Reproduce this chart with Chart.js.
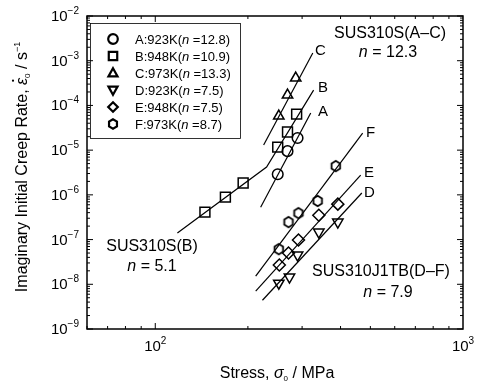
<!DOCTYPE html>
<html>
<head>
<meta charset="utf-8">
<script src="https://cdn.jsdelivr.net/npm/chart.js@4.4.0/dist/chart.umd.min.js"></script>
<style>
  html, body { margin: 0; padding: 0; background: #fff; }
</style>
</head>
<body>
<canvas id="creepChart" width="484" height="386"></canvas>
<script>
// --- data (stress in MPa, rate in 1/s) ---
const seriesLabels = ['A:923K(', 'B:948K(', 'C:973K(', 'D:923K(', 'E:948K(', 'F:973K('];
const seriesN = ['12.8', '10.9', '13.3', '7.5', '7.5', '8.7'];

const stressA = [250, 269, 290];
const rateA = [2.9e-6, 9.5e-6, 1.87e-5];
const stressB = [145, 169, 193, 250, 269, 288];
const rateB = [4.1e-7, 8.9e-7, 1.84e-6, 1.17e-5, 2.54e-5, 6.4e-5];
const stressC = [252, 269, 286];
const rateC = [5.8e-5, 1.71e-4, 4.1e-4];
const stressD = [252, 273, 290, 340, 392];
const rateD = [1.06e-8, 1.45e-8, 4.5e-8, 1.47e-7, 2.46e-7];
const stressE = [253, 271, 292, 340, 392];
const rateE = [2.7e-8, 5.0e-8, 9.8e-8, 3.5e-7, 6.2e-7];
const stressF = [252, 271, 292, 337, 386];
const rateF = [6.1e-8, 2.46e-7, 3.9e-7, 7.3e-7, 4.4e-6];

// fitted lines
const fitStressA = [220, 320];
const fitRateA = [5.3e-7, 6.8e-5];
const fitStressB = [118, 230, 327];
const fitRateB = [1.4e-7, 4.2e-6, 2.2e-4];
const fitStressC = [225, 325];
const fitRateC = [1.3e-5, 1.49e-3];
const fitStressD = [223, 469];
const fitRateD = [4.4e-9, 1.1e-6];
const fitStressE = [212, 465];
const fitRateE = [7.0e-9, 2.77e-6];
const fitStressF = [212, 472];
const fitRateF = [1.52e-8, 2.4e-5];

const xMajorTicks = [100, 1000];
const xTickExp = ['2', '3'];
const yTickExp = [-9, -8, -7, -6, -5, -4, -3, -2];

const FONT = '"Liberation Sans", Arial, Helvetica, sans-serif';

function toPoints(xs, ys) {
    return xs.map((v, i) => ({ x: v, y: ys[i] }));
}

// marker images for the legend (and the hexagon, which Chart.js has no style for)
function makeMarker(shape, size, lw) {
    const c = document.createElement('canvas');
    c.width = size; c.height = size;
    const g = c.getContext('2d');
    const m = size / 2;
    const r = size / 2 - lw;
    g.strokeStyle = '#000';
    g.lineWidth = lw;
    g.beginPath();
    if (shape === 'circle') {
        g.arc(m, m, r, 0, Math.PI * 2);
    } else if (shape === 'square') {
        const s = r * 0.88;
        g.rect(m - s, m - s, s * 2, s * 2);
    } else if (shape === 'up' || shape === 'down') {
        const d = shape === 'up' ? 1 : -1;
        g.moveTo(m, m - d * r);
        g.lineTo(m + r * 0.95, m + d * r * 0.72);
        g.lineTo(m - r * 0.95, m + d * r * 0.72);
    } else if (shape === 'diamond') {
        g.moveTo(m, m - r);
        g.lineTo(m + r, m);
        g.lineTo(m, m + r);
        g.lineTo(m - r, m);
    } else if (shape === 'hexagon') {
        for (let k = 0; k < 6; k++) {
            const a = Math.PI / 2 + k * Math.PI / 3;
            const px = m + r * 0.95 * Math.cos(a), py = m - r * Math.sin(a);
            if (k === 0) g.moveTo(px, py); else g.lineTo(px, py);
        }
    }
    g.closePath();
    g.stroke();
    return c;
}

const shapes = ['circle', 'square', 'up', 'down', 'diamond', 'hexagon'];
const legendMarkers = shapes.map(s => makeMarker(s, 14, 2.2));
const hexMarker = makeMarker('hexagon', 14, 1.8);

const pointStyles = ['circle', 'rect', 'triangle', 'triangle', 'rectRot', hexMarker];
const pointRadii = [5.3, 7, 6, 6, 6, 7];
const pointRotations = [0, 0, 0, 180, 0, 0];

const pointSets = [
    toPoints(stressA, rateA), toPoints(stressB, rateB), toPoints(stressC, rateC),
    toPoints(stressD, rateD), toPoints(stressE, rateE), toPoints(stressF, rateF)
];
const fitSets = [
    toPoints(fitStressA, fitRateA), toPoints(fitStressB, fitRateB), toPoints(fitStressC, fitRateC),
    toPoints(fitStressD, fitRateD), toPoints(fitStressE, fitRateE), toPoints(fitStressF, fitRateF)
];

const datasets = [];
fitSets.forEach(pts => datasets.push({
    type: 'line',
    data: pts,
    borderColor: '#000',
    borderWidth: 1.2,
    pointRadius: 0,
    fill: false,
    tension: 0
}));
pointSets.forEach((pts, i) => datasets.push({
    type: 'scatter',
    data: pts,
    pointStyle: pointStyles[i],
    pointRadius: pointRadii[i],
    rotation: pointRotations[i],
    pointBorderColor: '#000',
    pointBackgroundColor: 'rgba(0,0,0,0)',
    pointBorderWidth: 1.5,
    showLine: false
}));

function drawRich(ctx, parts, x, y, align) {
    let total = 0;
    parts.forEach(p => { ctx.font = p.font; p.w = ctx.measureText(p.t).width; total += p.w; });
    let cx = align === 'center' ? x - total / 2 : (align === 'right' ? x - total : x);
    ctx.textAlign = 'left';
    ctx.textBaseline = 'alphabetic';
    parts.forEach(p => {
        ctx.font = p.font;
        ctx.fillText(p.t, cx, y + (p.dy || 0));
        if (p.dot) {
            ctx.beginPath();
            ctx.arc(cx + p.w * 0.6, y - 14, 1.1, 0, Math.PI * 2);
            ctx.fill();
        }
        cx += p.w;
    });
    return total;
}

const reg = s => s + 'px ' + FONT;
const ital = s => 'italic ' + s + 'px ' + FONT;

const decorPlugin = {
    id: 'decor',
    afterDraw(chart) {
        const { ctx, chartArea: a, scales: { x, y } } = chart;
        ctx.save();
        ctx.fillStyle = '#000';
        ctx.strokeStyle = '#000';

        // frame
        ctx.lineWidth = 1.5;
        ctx.strokeRect(a.left, a.top, a.right - a.left, a.bottom - a.top);

        const tick = (x1, y1, x2, y2) => { ctx.beginPath(); ctx.moveTo(x1, y1); ctx.lineTo(x2, y2); ctx.stroke(); };

        // y ticks, inward on both sides
        ctx.lineWidth = 1;
        yTickExp.forEach(e => {
            for (let m = 1; m < 10; m++) {
                if (e === -2 && m > 1) break;
                const py = y.getPixelForValue(m * Math.pow(10, e));
                const len = m === 1 ? 6 : 3;
                tick(a.left, py, a.left + len, py);
                tick(a.right, py, a.right - len, py);
            }
        });
        // x ticks
        [1, 2].forEach(e => {
            for (let m = 1; m < 10; m++) {
                const v = m * Math.pow(10, e);
                if (v < x.min || v > x.max) continue;
                const px = x.getPixelForValue(v);
                const len = m === 1 ? 6 : 3;
                tick(px, a.bottom, px, a.bottom - len);
                tick(px, a.top, px, a.top + len);
            }
        });

        // y tick labels
        yTickExp.forEach(e => {
            const py = y.getPixelForValue(Math.pow(10, e));
            drawRich(ctx, [
                { t: '10', font: reg(15) },
                { t: '\u2212' + Math.abs(e), font: reg(10), dy: -7 }
            ], 79, py + 5, 'right');
        });
        // x tick labels
        xMajorTicks.forEach((v, i) => {
            const px = x.getPixelForValue(v);
            drawRich(ctx, [
                { t: '10', font: reg(15) },
                { t: xTickExp[i], font: reg(10), dy: -7 }
            ], px, 351, 'center');
        });

        // axis titles
        drawRich(ctx, [
            { t: 'Stress, ', font: reg(16) },
            { t: '\u03c3', font: ital(16) },
            { t: '0', font: reg(8), dy: 3 },
            { t: ' / MPa', font: reg(16) }
        ], 277, 378, 'center');

        ctx.save();
        ctx.translate(27, 167);
        ctx.rotate(-Math.PI / 2);
        drawRich(ctx, [
            { t: 'Imaginary Initial Creep Rate, ', font: reg(16) },
            { t: '\u03b5', font: ital(16), dot: true },
            { t: '0', font: reg(8), dy: 3 },
            { t: ' / s', font: reg(16) },
            { t: '\u22121', font: reg(9), dy: -7 }
        ], 0, 0, 'center');
        ctx.restore();

        // legend box
        ctx.lineWidth = 0.8;
        ctx.strokeRect(90.5, 23.5, 150, 115);
        seriesLabels.forEach((lab, i) => {
            const ry = 39 + i * 17;
            ctx.drawImage(legendMarkers[i], 106, ry - 7);
            drawRich(ctx, [
                { t: lab, font: reg(13) },
                { t: 'n', font: ital(13) },
                { t: ' =' + seriesN[i] + ')', font: reg(13) }
            ], 135, ry + 5, 'left');
        });

        // annotations
        drawRich(ctx, [{ t: 'SUS310S(A\u2013C)', font: reg(16) }], 390, 38, 'center');
        drawRich(ctx, [{ t: 'n', font: ital(16) }, { t: ' = 12.3', font: reg(16) }], 388, 57, 'center');
        drawRich(ctx, [{ t: 'C', font: reg(15) }], 315, 55, 'left');
        drawRich(ctx, [{ t: 'B', font: reg(15) }], 318, 92, 'left');
        drawRich(ctx, [{ t: 'A', font: reg(15) }], 318, 116, 'left');
        drawRich(ctx, [{ t: 'F', font: reg(15) }], 366, 137, 'left');
        drawRich(ctx, [{ t: 'E', font: reg(15) }], 364, 177, 'left');
        drawRich(ctx, [{ t: 'D', font: reg(15) }], 364, 197, 'left');
        drawRich(ctx, [{ t: 'SUS310S(B)', font: reg(16) }], 152, 251, 'center');
        drawRich(ctx, [{ t: 'n', font: ital(16) }, { t: ' = 5.1', font: reg(16) }], 152, 271, 'center');
        drawRich(ctx, [{ t: 'SUS310J1TB(D\u2013F)', font: reg(16) }], 381, 276, 'center');
        drawRich(ctx, [{ t: 'n', font: ital(16) }, { t: ' = 7.9', font: reg(16) }], 388, 297, 'center');

        ctx.restore();
    }
};

new Chart(document.getElementById('creepChart'), {
    data: { datasets },
    options: {
        responsive: false,
        animation: false,
        layout: { padding: { left: 0, top: 16, right: 21, bottom: 0 } },
        plugins: { legend: { display: false }, tooltip: { enabled: false } },
        scales: {
            x: {
                type: 'logarithmic',
                min: 60,
                max: 1000,
                grid: { display: false },
                border: { display: false },
                ticks: { display: false },
                afterFit: s => { s.height = 57; }
            },
            y: {
                type: 'logarithmic',
                min: 1e-9,
                max: 1e-2,
                grid: { display: false },
                border: { display: false },
                ticks: { display: false },
                afterFit: s => { s.width = 87; }
            }
        }
    },
    plugins: [decorPlugin]
});
</script>
</body>
</html>
